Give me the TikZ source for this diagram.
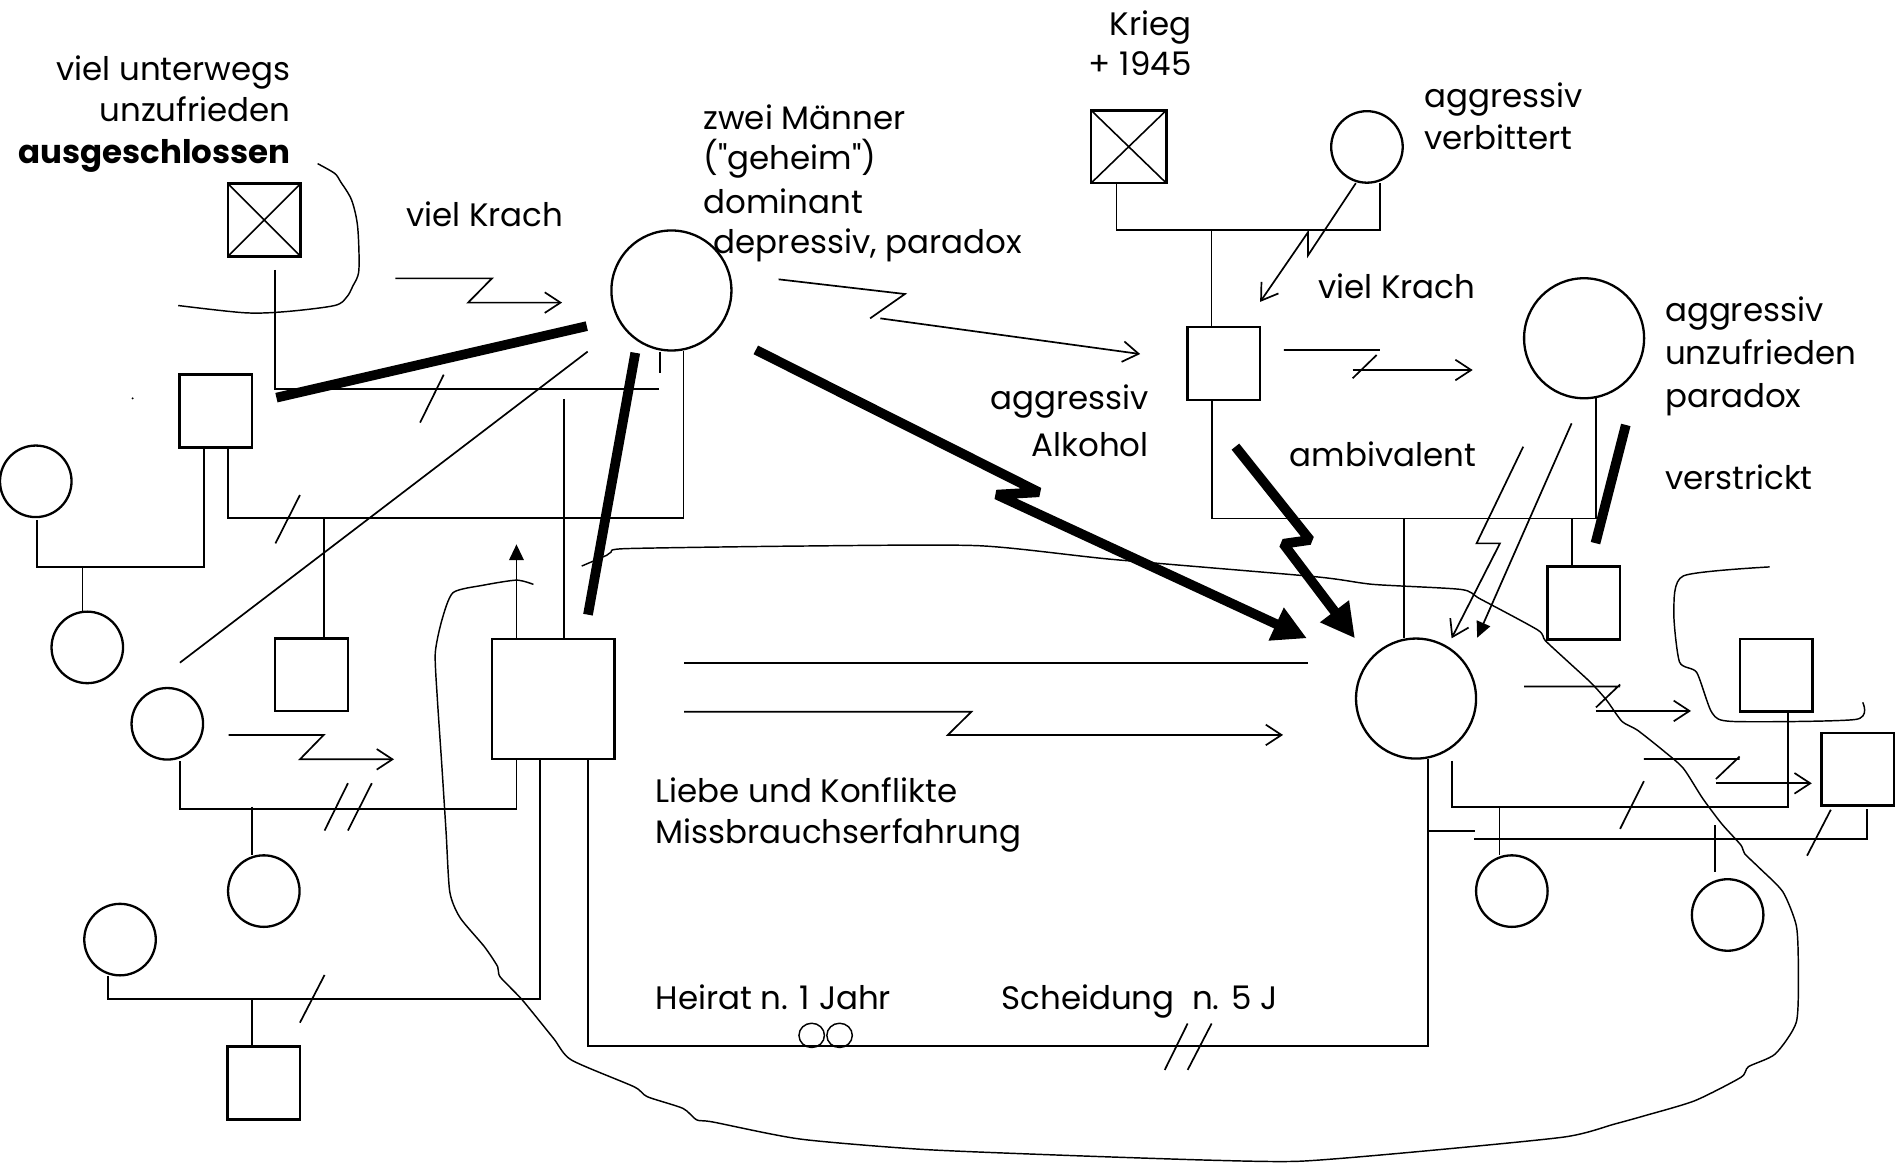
\documentclass[tikz,border=0pt]{standalone}
\usepackage{fontspec}
\newfontfamily\labelfont{Poppins}
\usetikzlibrary{arrows.meta}

\begin{document}
\begin{tikzpicture}[x=1pt,y=-1pt,
  every node/.style={inner sep=0pt, outer sep=0pt},
  lbl/.style={font=\labelfont\fontsize{26.8}{33}\selectfont},
  mbox/.style={draw, line width=2pt, rectangle, minimum width=60pt, minimum height=60pt},
  dbox/.style={mbox, path picture={\draw[line width=1.3pt]
      (path picture bounding box.north west)--(path picture bounding box.south east)
      (path picture bounding box.north east)--(path picture bounding box.south west);}},
  fcirc/.style={draw, line width=1.9pt, circle, minimum size=59pt},
  bigcirc/.style={fcirc, minimum size=99pt},
  kin/.style={line width=1.4pt},
  curve/.style={line width=1.2pt},
  thickbar/.style={line width=8pt},
  opentip/.style={kin, -{Straight Barb[length=13pt,width=17pt]}},
  filltip/.style={kin, -{Triangle[length=13pt,width=12pt]}},
  bigtip/.style={thickbar, -{Triangle[length=28pt,width=28pt]}, line join=bevel}
]
\useasboundingbox (0,0) rectangle (1568,963);

% ---------- persons ----------
\node[dbox] (s1) at (218,181.5) {};
\node[mbox] (s2) at (178,339) {};
\node[fcirc] (c1) at (29.5,397) {};
\node[fcirc] (c2) at (72,534) {};
\node[mbox] (s3) at (257,556.5) {};
\node[fcirc] (c3) at (138,597) {};
\node[mbox, minimum width=101pt, minimum height=99pt] (s4) at (456.3,576.6) {};
\node[fcirc] (c4) at (217.6,735) {};
\node[fcirc] (c11) at (99,775) {};
\node[mbox] (s10) at (217.6,893.3) {};
\node[bigcirc] (c8) at (553.8,239.6) {};
\node[dbox, minimum width=62pt] (s7) at (931,121) {};
\node[fcirc] (c6) at (1127.5,121.2) {};
\node[mbox] (s5) at (1009.4,299.8) {};
\node[bigcirc] (c7) at (1306.6,279) {};
\node[bigcirc] (c5) at (1168,576.2) {};
\node[mbox] (s6) at (1306.3,497.4) {};
\node[mbox] (s8) at (1465,556.9) {};
\node[mbox] (s9) at (1532.3,634.5) {};
\node[fcirc] (c9) at (1247,735) {};
\node[fcirc] (c10) at (1425,754.7) {};

% ---------- family lines ----------
\draw[kin] (226.6,222.7) -- (226.6,321) -- (543.8,321);
\draw[kin] (544.6,290) -- (544.6,308);
\draw[kin] (563.7,289.5) -- (563.7,427.5) -- (187.8,427.5) -- (187.8,369);
\draw[kin] (168.3,369) -- (168.3,467.4) -- (30.6,467.4) -- (30.6,429);
\draw[kin] (68,467.4) -- (68,506);
\draw[kin] (267,427.5) -- (267,527);
\draw[kin] (465,329) -- (465,527);
\draw[filltip] (426,527) -- (426,449);
\draw[kin] (148.4,628) -- (148.4,667) -- (426,667) -- (426,626.3);
\draw[kin] (208,665.4) -- (208,705.3);
\draw[kin] (445.5,626.3) -- (445.5,824) -- (89.1,824) -- (89.1,805);
\draw[kin] (208,824) -- (208,863.3);
\draw[kin] (485.2,626.3) -- (485.2,863) -- (1177.6,863) -- (1177.6,625.7);
\draw[kin] (1177.6,685.5) -- (1217,685.5);
\draw[kin] (1197.8,627.5) -- (1197.8,665.4) -- (1474.8,665.4) -- (1474.8,587);
\draw[kin] (1236.7,665.4) -- (1236.7,705.1);
\draw[kin] (1216,691.8) -- (1540.2,691.8) -- (1540.2,667.2);
\draw[kin] (1414.7,680.5) -- (1414.7,719.2);
\draw[kin] (920.9,151.2) -- (920.9,189.7) -- (1138.2,189.7) -- (1138.2,151.1);
\draw[kin] (999.3,189.7) -- (999.3,270);
\draw[kin] (999.5,329.6) -- (999.5,427.6) -- (1316.2,427.6) -- (1316.2,328.5);
\draw[kin] (1158.2,427.6) -- (1158.2,526.5);
\draw[kin] (1296.5,427.6) -- (1296.5,467.5);
\draw[kin] (148.4,546.6) -- (484.7,290);
\draw[kin] (564.2,546.7) -- (1078.5,546.7);

% separation marks
\draw[kin] (366,309) -- (346.5,348.6);
\draw[kin] (247.4,408.3) -- (227.2,448.2);
\draw[kin] (287,646) -- (267.7,685.1) (306.7,646) -- (287,685);
\draw[kin] (267.7,804.2) -- (247.4,843.5);
\draw[kin] (979.6,844.2) -- (960.7,882.5) (999.4,844.2) -- (979.6,882.5);
\draw[kin] (1355.9,644.3) -- (1336.3,683.7);
\draw[kin] (1510.1,667.9) -- (1490.5,705.8);

% ---------- conflict arrows ----------
\draw[opentip] (326.2,229.6) -- (405.8,229.6) -- (386.1,249.6) -- (463.6,249.6);
\draw[opentip] (188.5,606.2) -- (267,606.2) -- (247.4,626.3) -- (325,626.3);
\draw[opentip] (564.3,587.1) -- (801.2,587.1) -- (781.8,606.2) -- (1058.3,606.2);
\draw[kin] (642.2,230.4) -- (746.4,242.5) -- (717.7,262.6);
\draw[opentip] (726.1,262.6) -- (940.4,292);
\draw[kin] (1059,288.7) -- (1138.2,288.7) (1135.5,292.8) -- (1115.7,312);
\draw[opentip] (1115.7,305.2) -- (1214.7,305.2);
\draw[opentip] (1118.3,151.1) -- (1078.9,210.6) -- (1078.9,191.5) -- (1039.4,249);
\draw[kin] (1257.2,566.3) -- (1336.3,566.3) (1336.3,564.6) -- (1316.4,583.5);
\draw[opentip] (1316.4,586.4) -- (1394.8,586.4);
\draw[kin] (1355.9,626) -- (1434.9,626) (1434.9,624) -- (1415.3,642.6);
\draw[opentip] (1415.3,646.1) -- (1494.4,646.1);
\draw[opentip] (1256.4,368.4) -- (1217.9,448.2) -- (1237.2,448.2) -- (1197.3,526.5);
\draw[filltip] (1296.3,349.2) -- (1218.4,526);

% ---------- strong bonds ----------
\draw[thickbar] (484,269) -- (228,328);
\draw[thickbar] (524,291) -- (485,507);
\draw[thickbar] (1341,350.5) -- (1316,448);
\draw[bigtip] (623.4,288.6) -- (857,406) -- (822,408) -- (1078,526.5);
\draw[bigtip] (1019,368.4) -- (1080.5,445.4) -- (1058.5,448.5) -- (1117.6,526.5);

% ---------- boundaries ----------
\draw[curve] plot[smooth, tension=0.5] coordinates {(262,135) (276,143) (281,150) (290,165)
  (295,187) (296,223) (291,236) (286,245) (276,252) (236,257) (202,258) (147,252)};
\draw[curve] plot[smooth, tension=0.4] coordinates {(1459.6,467.6) (1388.5,475) (1380.6,503.8)
  (1385.3,546) (1399.5,554.7) (1412.2,588.1) (1429.6,595.1) (1530.7,593.4) (1536.4,579.3)};
\draw[curve] plot[smooth, tension=0.4] coordinates {(440,482) (426,478.5) (398.6,482.7)
  (373.7,488.8) (364.5,511.4) (359,538.9) (360.8,577.4) (364.5,632.4) (368,687.3) (371,735.7)
  (379.4,756.8) (399.5,780.8) (410.5,797.3) (412.4,805.6) (430.8,824.8) (456.5,856.4)
  (471.3,874.3) (522.8,896.3) (533.9,904.6) (563.3,914.2) (574.6,923.7) (588.3,925.5)
  (659.8,939.5) (760,948) (880,953) (1000,957) (1072.3,957.8) (1167.1,950.1) (1290.4,937.8)
  (1331.5,927.2) (1356.8,920.2) (1397.9,907.9) (1435.9,888.6) (1442.2,879.8) (1464.3,869.3)
  (1481.7,842.9) (1483.3,799) (1481.7,763.8) (1470.6,735.7) (1451.7,716.4) (1439,704.1)
  (1435.9,697) (1420.1,679.5) (1404.3,658.4) (1388.5,633.8) (1372.6,619.7) (1350.5,602.2)
  (1337.9,595.1) (1325.2,577.6) (1312.6,563.5) (1293.6,546) (1274.6,528.4) (1268.3,519.6)
  (1220.9,494) (1205.1,486.2) (1132.4,482) (1085,475.7) (916.5,461.3) (807,450.1)
  (659.8,450.4) (516.7,452.5) (504,455.4) (500.4,458) (479.8,466.9)};

% marriage rings and a speck
\draw[curve] (669.5,854) ellipse (10.5 and 10) (692.5,854) ellipse (10.5 and 10);
\fill (109.4,328.6) circle (0.9);

% ---------- labels ----------
\node[lbl, anchor=base east] (t1a) at (239.7,66.8) {viel unterwegs};
\node[lbl, anchor=base east] (t1b) at (239.7,100.4) {unzufrieden};
\node[lbl, anchor=base east] (t1c) at (239.7,134.7) {\bfseries ausgeschlossen};
\node[lbl, anchor=base west] (t2) at (335,187) {viel Krach};
\node[lbl, anchor=base west] (t3a) at (580.3,107.2) {zwei Männer};
\node[lbl, anchor=base west] (t3b) at (580.3,140.2) {("geheim")};
\node[lbl, anchor=base west] (t3c) at (580.3,176) {dominant};
\node[lbl, anchor=base west] (t3d) at (588.8,209) {depressiv, paradox};
\node[lbl, anchor=base east] (t4a) at (982.7,28.9) {Krieg};
\node[lbl, anchor=base east] (t4b) at (982.7,61.9) {+ 1945};
\node[lbl, anchor=base west] (t5a) at (1174.8,88.4) {aggressiv};
\node[lbl, anchor=base west] (t5b) at (1174.8,123.1) {verbittert};
\node[lbl, anchor=base west] (t6) at (1087.3,246.1) {viel Krach};
\node[lbl, anchor=base west] (t7a) at (1373.4,265.1) {aggressiv};
\node[lbl, anchor=base west] (t7b) at (1373.4,300.5) {unzufrieden};
\node[lbl, anchor=base west] (t7c) at (1373.4,335.8) {paradox};
\node[lbl, anchor=base west] (t7d) at (1373.4,403.6) {verstrickt};
\node[lbl, anchor=base east] (t8a) at (947.4,338) {aggressiv};
\node[lbl, anchor=base east] (t8b) at (947.4,376.6) {Alkohol};
\node[lbl, anchor=base west] (t9) at (1064,384.4) {ambivalent};
\node[lbl, anchor=base west] (t10a) at (540.7,661.6) {Liebe und Konflikte};
\node[lbl, anchor=base west] (t10b) at (540.7,695.5) {Missbrauchserfahrung};
\node[lbl, anchor=base west] (t11a) at (540.7,832.5) {Heirat n. 1 Jahr};
\node[lbl, anchor=base west] (t11b) at (826,832.5) {Scheidung\ \ n. 5 J};
\end{tikzpicture}
\end{document}
